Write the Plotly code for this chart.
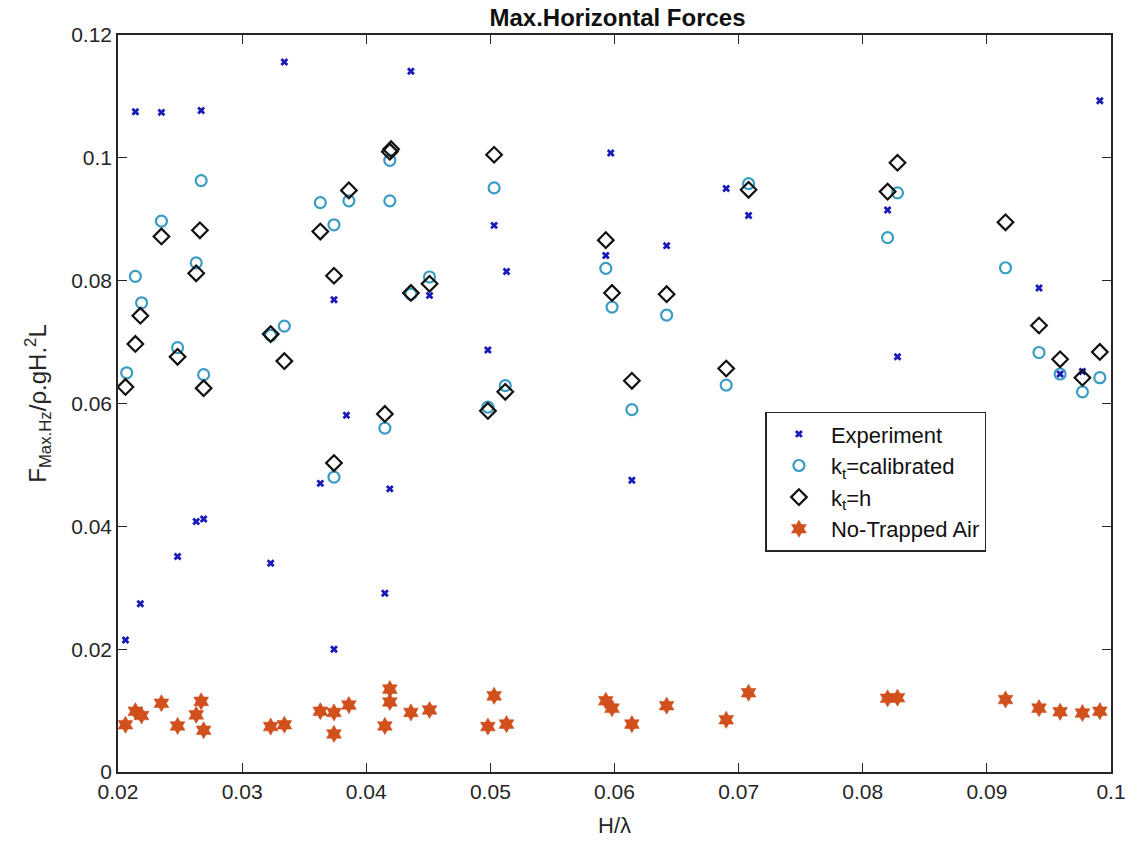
import plotly.graph_objects as go

# ---- data ----
exp_x = [0.0206, 0.0214, 0.0218, 0.0235, 0.0248, 0.0263, 0.0267, 0.0269, 0.0323, 0.0334,
         0.0363, 0.0374, 0.0374, 0.0384, 0.0415, 0.0419, 0.0436, 0.0451, 0.0498, 0.0503,
         0.0513, 0.0593, 0.0597, 0.0614, 0.0642, 0.0690, 0.0708, 0.0820, 0.0828, 0.0942,
         0.0959, 0.0977, 0.0991]
exp_y = [0.0215, 0.1075, 0.0274, 0.1074, 0.0351, 0.0408, 0.1077, 0.0412, 0.0340, 0.1156,
         0.0470, 0.0769, 0.0200, 0.0581, 0.0291, 0.0461, 0.1141, 0.0776, 0.0687, 0.0890,
         0.0815, 0.0841, 0.1008, 0.0475, 0.0857, 0.0950, 0.0906, 0.0915, 0.0676, 0.0788,
         0.0648, 0.0652, 0.1093]

cal_x = [0.0207, 0.0214, 0.0219, 0.0235, 0.0248, 0.0263, 0.0267, 0.0269, 0.0323, 0.0334,
         0.0363, 0.0374, 0.0374, 0.0386, 0.0415, 0.0419, 0.0419, 0.0436, 0.0451, 0.0498,
         0.0503, 0.0512, 0.0593, 0.0598, 0.0614, 0.0642, 0.0690, 0.0708, 0.0820, 0.0828,
         0.0915, 0.0942, 0.0959, 0.0977, 0.0991]
cal_y = [0.0650, 0.0807, 0.0764, 0.0897, 0.0691, 0.0829, 0.0963, 0.0647, 0.0711, 0.0726,
         0.0927, 0.0891, 0.0480, 0.0930, 0.0560, 0.0996, 0.0930, 0.0778, 0.0806, 0.0594,
         0.0951, 0.0629, 0.0820, 0.0757, 0.0590, 0.0744, 0.0630, 0.0958, 0.0870, 0.0943,
         0.0821, 0.0683, 0.0648, 0.0619, 0.0642]

h_x = [0.0206, 0.0214, 0.0218, 0.0235, 0.0248, 0.0263, 0.0266, 0.0269, 0.0323, 0.0334,
       0.0363, 0.0374, 0.0374, 0.0386, 0.0415, 0.0419, 0.0420, 0.0436, 0.0451, 0.0498,
       0.0503, 0.0512, 0.0593, 0.0598, 0.0614, 0.0642, 0.0690, 0.0708, 0.0820, 0.0828,
       0.0915, 0.0942, 0.0959, 0.0977, 0.0991]
h_y = [0.0627, 0.0697, 0.0743, 0.0872, 0.0676, 0.0812, 0.0882, 0.0625, 0.0713, 0.0669,
       0.0880, 0.0808, 0.0503, 0.0947, 0.0583, 0.1010, 0.1014, 0.0780, 0.0795, 0.0588,
       0.1005, 0.0619, 0.0866, 0.0780, 0.0637, 0.0778, 0.0657, 0.0948, 0.0945, 0.0992,
       0.0895, 0.0727, 0.0672, 0.0642, 0.0684]

nta_x = [0.0206, 0.0214, 0.0219, 0.0235, 0.0248, 0.0263, 0.0267, 0.0269, 0.0323, 0.0334,
         0.0363, 0.0374, 0.0374, 0.0386, 0.0415, 0.0419, 0.0419, 0.0436, 0.0451, 0.0498,
         0.0503, 0.0513, 0.0593, 0.0598, 0.0614, 0.0642, 0.0690, 0.0708, 0.0820, 0.0828,
         0.0915, 0.0942, 0.0959, 0.0977, 0.0991]
nta_y = [0.0077, 0.0099, 0.0092, 0.0112, 0.0075, 0.0093, 0.0115, 0.0068, 0.0074, 0.0077,
         0.0099, 0.0097, 0.0062, 0.0109, 0.0075, 0.0135, 0.0114, 0.0097, 0.0101, 0.0074,
         0.0124, 0.0078, 0.0116, 0.0104, 0.0078, 0.0108, 0.0085, 0.0129, 0.0120, 0.0121,
         0.0118, 0.0104, 0.0098, 0.0096, 0.0099]

x_ticks = [0.02, 0.03, 0.04, 0.05, 0.06, 0.07, 0.08, 0.09, 0.1]
x_tick_labels = ["0.02", "0.03", "0.04", "0.05", "0.06", "0.07", "0.08", "0.09", "0.1"]
y_ticks = [0, 0.02, 0.04, 0.06, 0.08, 0.1, 0.12]
y_tick_labels = ["0", "0.02", "0.04", "0.06", "0.08", "0.1", "0.12"]

SANS = "Liberation Sans, Arial, sans-serif"

fig = go.Figure()
fig.add_trace(go.Scatter(
    x=exp_x, y=exp_y, mode="markers", name="Experiment",
    marker=dict(symbol="x", size=7, color="#1a1ab8", line=dict(width=0))))
fig.add_trace(go.Scatter(
    x=cal_x, y=cal_y, mode="markers", name="k<sub>t</sub>=calibrated",
    marker=dict(symbol="circle-open", size=11, color="#3a9cc2", line=dict(width=2.2, color="#3a9cc2"))))
fig.add_trace(go.Scatter(
    x=h_x, y=h_y, mode="markers", name="k<sub>t</sub>=h",
    marker=dict(symbol="diamond-open", size=12, color="#111111", line=dict(width=2.2, color="#111111"))))
fig.add_trace(go.Scatter(
    x=nta_x, y=nta_y, mode="markers", name="No-Trapped Air",
    marker=dict(symbol="hexagram", size=13, color="#d2501c", line=dict(width=0.5, color="#c8461a"))))

axis_common = dict(
    showgrid=False, zeroline=False, showline=True, linecolor="#262626", linewidth=1.5,
    mirror="ticks", ticks="inside", ticklen=9, tickwidth=1.3, tickcolor="#262626",
    tickfont=dict(family=SANS, size=21, color="#262626"))

fig.update_xaxes(range=[0.02, 0.1], tickvals=x_ticks, ticktext=x_tick_labels,
                 title=dict(text="H/λ", font=dict(family=SANS, size=22, color="#262626"), standoff=16),
                 **axis_common)
fig.update_yaxes(range=[0, 0.12], tickvals=y_ticks, ticktext=y_tick_labels,
                 title=dict(text="F<sub>Max.Hz</sub>/ρ.gH.<sup>2</sup>L",
                            font=dict(family=SANS, size=24, color="#262626"), standoff=18),
                 **axis_common)

fig.update_layout(
    width=1138, height=846,
    margin=dict(l=118, r=21, t=35, b=73),
    paper_bgcolor="white", plot_bgcolor="white",
    title=dict(text="<b>Max.Horizontal Forces</b>", x=(118 + 1117) / 2 / 1138, xanchor="center",
               y=1 - 18 / 846, yanchor="middle",
               font=dict(family=SANS, size=24, color="#111111")),
    legend=dict(x=0.652, y=0.489, xanchor="left", yanchor="top",
                bgcolor="white", bordercolor="#262626", borderwidth=1.5,
                font=dict(family=SANS, size=22, color="#111111"),
                itemwidth=54),
    showlegend=True,
)

fig.write_html("out.html")
